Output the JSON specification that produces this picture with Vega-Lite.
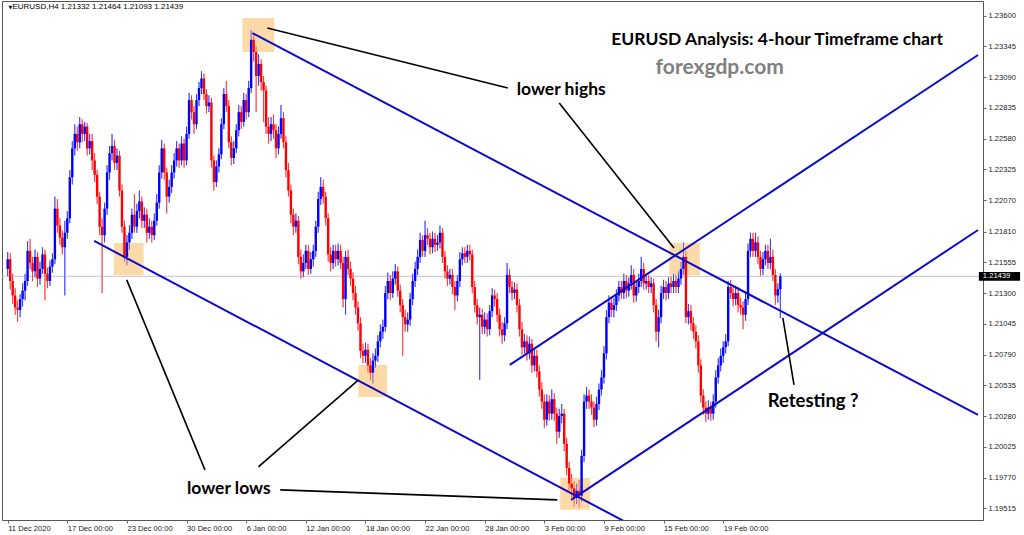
{
"$schema": "https://vega.github.io/schema/vega-lite/v6.json",
"width": 981, "height": 519,
"autosize": {"type": "none"},
"padding": {"left": 2, "top": 1, "right": 41, "bottom": 15},
"background": "white",
"config": {"view": {"stroke": "#555555", "strokeWidth": 1}, "axis": {"grid": false, "labelOverlap": false, "labelFlush": false, "labelBound": false}},
"datasets": {
"candles": [
{"i":0,"o":1.2150,"h":1.2164,"l":1.2144,"c":1.2158},
{"i":1,"o":1.2158,"h":1.2163,"l":1.2133,"c":1.2140},
{"i":2,"o":1.2140,"h":1.2146,"l":1.2121,"c":1.2128},
{"i":3,"o":1.2128,"h":1.2134,"l":1.2112,"c":1.2118},
{"i":4,"o":1.2118,"h":1.2124,"l":1.2106,"c":1.2116},
{"i":5,"o":1.2116,"h":1.2129,"l":1.2110,"c":1.2125},
{"i":6,"o":1.2125,"h":1.2138,"l":1.2119,"c":1.2132},
{"i":7,"o":1.2132,"h":1.2146,"l":1.2124,"c":1.2140},
{"i":8,"o":1.2140,"h":1.2173,"l":1.2136,"c":1.2165},
{"i":9,"o":1.2165,"h":1.2175,"l":1.2150,"c":1.2155},
{"i":10,"o":1.2155,"h":1.2160,"l":1.2140,"c":1.2148},
{"i":11,"o":1.2148,"h":1.2166,"l":1.2143,"c":1.2160},
{"i":12,"o":1.2160,"h":1.2164,"l":1.2135,"c":1.2142},
{"i":13,"o":1.2142,"h":1.2156,"l":1.2137,"c":1.2150},
{"i":14,"o":1.2150,"h":1.2168,"l":1.2146,"c":1.2162},
{"i":15,"o":1.2162,"h":1.2166,"l":1.2124,"c":1.2146},
{"i":16,"o":1.2146,"h":1.2151,"l":1.2134,"c":1.2140},
{"i":17,"o":1.2140,"h":1.2157,"l":1.2136,"c":1.2152},
{"i":18,"o":1.2152,"h":1.2163,"l":1.2147,"c":1.2158},
{"i":19,"o":1.2158,"h":1.2210,"l":1.2154,"c":1.2200},
{"i":20,"o":1.2200,"h":1.2208,"l":1.2180,"c":1.2186},
{"i":21,"o":1.2186,"h":1.2192,"l":1.2170,"c":1.2176},
{"i":22,"o":1.2176,"h":1.2182,"l":1.2162,"c":1.2168},
{"i":23,"o":1.2168,"h":1.2190,"l":1.2128,"c":1.2180},
{"i":24,"o":1.2180,"h":1.2198,"l":1.2175,"c":1.2192},
{"i":25,"o":1.2192,"h":1.2232,"l":1.2188,"c":1.2226},
{"i":26,"o":1.2226,"h":1.2256,"l":1.2220,"c":1.2250},
{"i":27,"o":1.2250,"h":1.2270,"l":1.2244,"c":1.2262},
{"i":28,"o":1.2262,"h":1.2268,"l":1.2248,"c":1.2255},
{"i":29,"o":1.2255,"h":1.2276,"l":1.2250,"c":1.2270},
{"i":30,"o":1.2270,"h":1.2274,"l":1.2255,"c":1.2262},
{"i":31,"o":1.2262,"h":1.2272,"l":1.2256,"c":1.2268},
{"i":32,"o":1.2268,"h":1.2271,"l":1.2244,"c":1.2250},
{"i":33,"o":1.2250,"h":1.2262,"l":1.2245,"c":1.2256},
{"i":34,"o":1.2256,"h":1.2262,"l":1.2232,"c":1.2240},
{"i":35,"o":1.2240,"h":1.2246,"l":1.2222,"c":1.2228},
{"i":36,"o":1.2228,"h":1.2232,"l":1.2204,"c":1.2210},
{"i":37,"o":1.2210,"h":1.2214,"l":1.2178,"c":1.2185},
{"i":38,"o":1.2185,"h":1.2192,"l":1.2130,"c":1.2178},
{"i":39,"o":1.2178,"h":1.2205,"l":1.2172,"c":1.2200},
{"i":40,"o":1.2200,"h":1.2236,"l":1.2195,"c":1.2230},
{"i":41,"o":1.2230,"h":1.2252,"l":1.2224,"c":1.2246},
{"i":42,"o":1.2246,"h":1.2262,"l":1.2240,"c":1.2252},
{"i":43,"o":1.2252,"h":1.2257,"l":1.2232,"c":1.2238},
{"i":44,"o":1.2238,"h":1.2250,"l":1.2232,"c":1.2244},
{"i":45,"o":1.2244,"h":1.2248,"l":1.2210,"c":1.2215},
{"i":46,"o":1.2215,"h":1.2220,"l":1.2180,"c":1.2185},
{"i":47,"o":1.2185,"h":1.2190,"l":1.2156,"c":1.2160},
{"i":48,"o":1.2160,"h":1.2178,"l":1.2153,"c":1.2172},
{"i":49,"o":1.2172,"h":1.2186,"l":1.2166,"c":1.2180},
{"i":50,"o":1.2180,"h":1.2200,"l":1.2175,"c":1.2195},
{"i":51,"o":1.2195,"h":1.2212,"l":1.2180,"c":1.2185},
{"i":52,"o":1.2185,"h":1.2204,"l":1.2180,"c":1.2198},
{"i":53,"o":1.2198,"h":1.2215,"l":1.2192,"c":1.2206},
{"i":54,"o":1.2206,"h":1.2210,"l":1.2184,"c":1.2190},
{"i":55,"o":1.2190,"h":1.2201,"l":1.2184,"c":1.2195},
{"i":56,"o":1.2195,"h":1.2200,"l":1.2172,"c":1.2180},
{"i":57,"o":1.2180,"h":1.2192,"l":1.2175,"c":1.2185},
{"i":58,"o":1.2185,"h":1.2190,"l":1.2172,"c":1.2178},
{"i":59,"o":1.2178,"h":1.2196,"l":1.2174,"c":1.2190},
{"i":60,"o":1.2190,"h":1.2212,"l":1.2186,"c":1.2205},
{"i":61,"o":1.2205,"h":1.2236,"l":1.2200,"c":1.2230},
{"i":62,"o":1.2230,"h":1.2257,"l":1.2225,"c":1.2250},
{"i":63,"o":1.2250,"h":1.2254,"l":1.2224,"c":1.2230},
{"i":64,"o":1.2230,"h":1.2234,"l":1.2196,"c":1.2210},
{"i":65,"o":1.2210,"h":1.2224,"l":1.2205,"c":1.2218},
{"i":66,"o":1.2218,"h":1.2236,"l":1.2213,"c":1.2230},
{"i":67,"o":1.2230,"h":1.2246,"l":1.2225,"c":1.2240},
{"i":68,"o":1.2240,"h":1.2256,"l":1.2235,"c":1.2250},
{"i":69,"o":1.2250,"h":1.2254,"l":1.2234,"c":1.2240},
{"i":70,"o":1.2240,"h":1.2260,"l":1.2236,"c":1.2254},
{"i":71,"o":1.2254,"h":1.2258,"l":1.2234,"c":1.2240},
{"i":72,"o":1.2240,"h":1.2268,"l":1.2236,"c":1.2262},
{"i":73,"o":1.2262,"h":1.2296,"l":1.2258,"c":1.2290},
{"i":74,"o":1.2290,"h":1.2294,"l":1.2274,"c":1.2280},
{"i":75,"o":1.2280,"h":1.2285,"l":1.2262,"c":1.2270},
{"i":76,"o":1.2270,"h":1.2295,"l":1.2266,"c":1.2290},
{"i":77,"o":1.2290,"h":1.2305,"l":1.2285,"c":1.2300},
{"i":78,"o":1.2300,"h":1.2314,"l":1.2295,"c":1.2308},
{"i":79,"o":1.2308,"h":1.2312,"l":1.2290,"c":1.2295},
{"i":80,"o":1.2295,"h":1.2299,"l":1.2279,"c":1.2285},
{"i":81,"o":1.2285,"h":1.2294,"l":1.2280,"c":1.2288},
{"i":82,"o":1.2288,"h":1.2292,"l":1.2234,"c":1.2240},
{"i":83,"o":1.2240,"h":1.2244,"l":1.2215,"c":1.2222},
{"i":84,"o":1.2222,"h":1.2240,"l":1.2218,"c":1.2235},
{"i":85,"o":1.2235,"h":1.2250,"l":1.2230,"c":1.2245},
{"i":86,"o":1.2245,"h":1.2275,"l":1.2241,"c":1.2270},
{"i":87,"o":1.2270,"h":1.2300,"l":1.2266,"c":1.2295},
{"i":88,"o":1.2295,"h":1.2306,"l":1.2280,"c":1.2285},
{"i":89,"o":1.2285,"h":1.2290,"l":1.2250,"c":1.2255},
{"i":90,"o":1.2255,"h":1.2260,"l":1.2236,"c":1.2242},
{"i":91,"o":1.2242,"h":1.2256,"l":1.2237,"c":1.2250},
{"i":92,"o":1.2250,"h":1.2270,"l":1.2246,"c":1.2265},
{"i":93,"o":1.2265,"h":1.2286,"l":1.2260,"c":1.2280},
{"i":94,"o":1.2280,"h":1.2285,"l":1.2266,"c":1.2272},
{"i":95,"o":1.2272,"h":1.2296,"l":1.2268,"c":1.2290},
{"i":96,"o":1.2290,"h":1.2295,"l":1.2274,"c":1.2280},
{"i":97,"o":1.2280,"h":1.2306,"l":1.2276,"c":1.2300},
{"i":98,"o":1.2300,"h":1.2348,"l":1.2296,"c":1.2340},
{"i":99,"o":1.2340,"h":1.2345,"l":1.2322,"c":1.2330},
{"i":100,"o":1.2330,"h":1.2335,"l":1.2280,"c":1.2310},
{"i":101,"o":1.2310,"h":1.2328,"l":1.2302,"c":1.2320},
{"i":102,"o":1.2320,"h":1.2324,"l":1.2298,"c":1.2305},
{"i":103,"o":1.2305,"h":1.2310,"l":1.2272,"c":1.2298},
{"i":104,"o":1.2298,"h":1.2302,"l":1.2262,"c":1.2268},
{"i":105,"o":1.2268,"h":1.2276,"l":1.2254,"c":1.2262},
{"i":106,"o":1.2262,"h":1.2276,"l":1.2256,"c":1.2270},
{"i":107,"o":1.2270,"h":1.2278,"l":1.2258,"c":1.2265},
{"i":108,"o":1.2265,"h":1.2270,"l":1.2242,"c":1.2250},
{"i":109,"o":1.2250,"h":1.2268,"l":1.2245,"c":1.2262},
{"i":110,"o":1.2262,"h":1.2286,"l":1.2258,"c":1.2275},
{"i":111,"o":1.2275,"h":1.2280,"l":1.2250,"c":1.2255},
{"i":112,"o":1.2255,"h":1.2260,"l":1.2226,"c":1.2232},
{"i":113,"o":1.2232,"h":1.2238,"l":1.2210,"c":1.2215},
{"i":114,"o":1.2215,"h":1.2220,"l":1.2188,"c":1.2195},
{"i":115,"o":1.2195,"h":1.2200,"l":1.2178,"c":1.2185},
{"i":116,"o":1.2185,"h":1.2196,"l":1.2180,"c":1.2190},
{"i":117,"o":1.2190,"h":1.2194,"l":1.2154,"c":1.2160},
{"i":118,"o":1.2160,"h":1.2166,"l":1.2142,"c":1.2148},
{"i":119,"o":1.2148,"h":1.2162,"l":1.2143,"c":1.2155},
{"i":120,"o":1.2155,"h":1.2170,"l":1.2150,"c":1.2165},
{"i":121,"o":1.2165,"h":1.2170,"l":1.2145,"c":1.2150},
{"i":122,"o":1.2150,"h":1.2164,"l":1.2146,"c":1.2158},
{"i":123,"o":1.2158,"h":1.2170,"l":1.2152,"c":1.2165},
{"i":124,"o":1.2165,"h":1.2190,"l":1.2160,"c":1.2185},
{"i":125,"o":1.2185,"h":1.2214,"l":1.2180,"c":1.2208},
{"i":126,"o":1.2208,"h":1.2226,"l":1.2203,"c":1.2218},
{"i":127,"o":1.2218,"h":1.2224,"l":1.2204,"c":1.2210},
{"i":128,"o":1.2210,"h":1.2214,"l":1.2186,"c":1.2192},
{"i":129,"o":1.2192,"h":1.2196,"l":1.2156,"c":1.2162},
{"i":130,"o":1.2162,"h":1.2168,"l":1.2148,"c":1.2155},
{"i":131,"o":1.2155,"h":1.2170,"l":1.2150,"c":1.2165},
{"i":132,"o":1.2165,"h":1.2170,"l":1.2152,"c":1.2158},
{"i":133,"o":1.2158,"h":1.2171,"l":1.2153,"c":1.2165},
{"i":134,"o":1.2165,"h":1.2170,"l":1.2150,"c":1.2155},
{"i":135,"o":1.2155,"h":1.2160,"l":1.2118,"c":1.2125},
{"i":136,"o":1.2125,"h":1.2165,"l":1.2112,"c":1.2160},
{"i":137,"o":1.2160,"h":1.2166,"l":1.2145,"c":1.2150},
{"i":138,"o":1.2150,"h":1.2156,"l":1.2136,"c":1.2142},
{"i":139,"o":1.2142,"h":1.2147,"l":1.2124,"c":1.2130},
{"i":140,"o":1.2130,"h":1.2136,"l":1.2112,"c":1.2118},
{"i":141,"o":1.2118,"h":1.2123,"l":1.2099,"c":1.2105},
{"i":142,"o":1.2105,"h":1.2110,"l":1.2076,"c":1.2082},
{"i":143,"o":1.2082,"h":1.2088,"l":1.2072,"c":1.2078},
{"i":144,"o":1.2078,"h":1.2089,"l":1.2072,"c":1.2083},
{"i":145,"o":1.2083,"h":1.2088,"l":1.2064,"c":1.2070},
{"i":146,"o":1.2070,"h":1.2076,"l":1.2058,"c":1.2064},
{"i":147,"o":1.2064,"h":1.2080,"l":1.2055,"c":1.2074},
{"i":148,"o":1.2074,"h":1.2084,"l":1.2068,"c":1.2078},
{"i":149,"o":1.2078,"h":1.2095,"l":1.2073,"c":1.2090},
{"i":150,"o":1.2090,"h":1.2104,"l":1.2085,"c":1.2098},
{"i":151,"o":1.2098,"h":1.2108,"l":1.2092,"c":1.2102},
{"i":152,"o":1.2102,"h":1.2136,"l":1.2098,"c":1.2130},
{"i":153,"o":1.2130,"h":1.2147,"l":1.2125,"c":1.2140},
{"i":154,"o":1.2140,"h":1.2145,"l":1.2124,"c":1.2130},
{"i":155,"o":1.2130,"h":1.2148,"l":1.2126,"c":1.2142},
{"i":156,"o":1.2142,"h":1.2154,"l":1.2137,"c":1.2148},
{"i":157,"o":1.2148,"h":1.2152,"l":1.2127,"c":1.2132},
{"i":158,"o":1.2132,"h":1.2137,"l":1.2114,"c":1.2120},
{"i":159,"o":1.2120,"h":1.2125,"l":1.2078,"c":1.2110},
{"i":160,"o":1.2110,"h":1.2116,"l":1.2098,"c":1.2104},
{"i":161,"o":1.2104,"h":1.2114,"l":1.2098,"c":1.2108},
{"i":162,"o":1.2108,"h":1.2130,"l":1.2103,"c":1.2125},
{"i":163,"o":1.2125,"h":1.2146,"l":1.2120,"c":1.2140},
{"i":164,"o":1.2140,"h":1.2156,"l":1.2135,"c":1.2150},
{"i":165,"o":1.2150,"h":1.2166,"l":1.2145,"c":1.2160},
{"i":166,"o":1.2160,"h":1.2180,"l":1.2155,"c":1.2174},
{"i":167,"o":1.2174,"h":1.2178,"l":1.2160,"c":1.2165},
{"i":168,"o":1.2165,"h":1.2190,"l":1.2160,"c":1.2178},
{"i":169,"o":1.2178,"h":1.2184,"l":1.2170,"c":1.2175},
{"i":170,"o":1.2175,"h":1.2180,"l":1.2162,"c":1.2168},
{"i":171,"o":1.2168,"h":1.2181,"l":1.2163,"c":1.2175},
{"i":172,"o":1.2175,"h":1.2180,"l":1.2164,"c":1.2170},
{"i":173,"o":1.2170,"h":1.2178,"l":1.2165,"c":1.2172},
{"i":174,"o":1.2172,"h":1.2186,"l":1.2167,"c":1.2180},
{"i":175,"o":1.2180,"h":1.2184,"l":1.2155,"c":1.2160},
{"i":176,"o":1.2160,"h":1.2165,"l":1.2142,"c":1.2148},
{"i":177,"o":1.2148,"h":1.2153,"l":1.2136,"c":1.2142},
{"i":178,"o":1.2142,"h":1.2150,"l":1.2137,"c":1.2145},
{"i":179,"o":1.2145,"h":1.2150,"l":1.2129,"c":1.2135},
{"i":180,"o":1.2135,"h":1.2140,"l":1.2116,"c":1.2128},
{"i":181,"o":1.2128,"h":1.2145,"l":1.2123,"c":1.2140},
{"i":182,"o":1.2140,"h":1.2164,"l":1.2135,"c":1.2158},
{"i":183,"o":1.2158,"h":1.2168,"l":1.2153,"c":1.2163},
{"i":184,"o":1.2163,"h":1.2168,"l":1.2155,"c":1.2160},
{"i":185,"o":1.2160,"h":1.2170,"l":1.2155,"c":1.2165},
{"i":186,"o":1.2165,"h":1.2170,"l":1.2157,"c":1.2162},
{"i":187,"o":1.2162,"h":1.2166,"l":1.2130,"c":1.2135},
{"i":188,"o":1.2135,"h":1.2140,"l":1.2114,"c":1.2120},
{"i":189,"o":1.2120,"h":1.2125,"l":1.2104,"c":1.2110},
{"i":190,"o":1.2110,"h":1.2118,"l":1.2058,"c":1.2112},
{"i":191,"o":1.2112,"h":1.2117,"l":1.2096,"c":1.2102},
{"i":192,"o":1.2102,"h":1.2114,"l":1.2096,"c":1.2108},
{"i":193,"o":1.2108,"h":1.2113,"l":1.2094,"c":1.2100},
{"i":194,"o":1.2100,"h":1.2120,"l":1.2095,"c":1.2115},
{"i":195,"o":1.2115,"h":1.2134,"l":1.2110,"c":1.2128},
{"i":196,"o":1.2128,"h":1.2133,"l":1.2119,"c":1.2125},
{"i":197,"o":1.2125,"h":1.2130,"l":1.2106,"c":1.2112},
{"i":198,"o":1.2112,"h":1.2117,"l":1.2094,"c":1.2100},
{"i":199,"o":1.2100,"h":1.2106,"l":1.2088,"c":1.2095},
{"i":200,"o":1.2095,"h":1.2110,"l":1.2090,"c":1.2105},
{"i":201,"o":1.2105,"h":1.2155,"l":1.2100,"c":1.2145},
{"i":202,"o":1.2145,"h":1.2150,"l":1.2130,"c":1.2135},
{"i":203,"o":1.2135,"h":1.2140,"l":1.2124,"c":1.2130},
{"i":204,"o":1.2130,"h":1.2139,"l":1.2125,"c":1.2133},
{"i":205,"o":1.2133,"h":1.2138,"l":1.2114,"c":1.2120},
{"i":206,"o":1.2120,"h":1.2125,"l":1.2094,"c":1.2100},
{"i":207,"o":1.2100,"h":1.2106,"l":1.2079,"c":1.2085},
{"i":208,"o":1.2085,"h":1.2096,"l":1.2080,"c":1.2090},
{"i":209,"o":1.2090,"h":1.2095,"l":1.2074,"c":1.2080},
{"i":210,"o":1.2080,"h":1.2094,"l":1.2075,"c":1.2088},
{"i":211,"o":1.2088,"h":1.2092,"l":1.2064,"c":1.2070},
{"i":212,"o":1.2070,"h":1.2084,"l":1.2065,"c":1.2078},
{"i":213,"o":1.2078,"h":1.2083,"l":1.2060,"c":1.2065},
{"i":214,"o":1.2065,"h":1.2070,"l":1.2044,"c":1.2050},
{"i":215,"o":1.2050,"h":1.2056,"l":1.2034,"c":1.2040},
{"i":216,"o":1.2040,"h":1.2046,"l":1.2018,"c":1.2025},
{"i":217,"o":1.2025,"h":1.2046,"l":1.2020,"c":1.2040},
{"i":218,"o":1.2040,"h":1.2045,"l":1.2024,"c":1.2030},
{"i":219,"o":1.2030,"h":1.2050,"l":1.2025,"c":1.2042},
{"i":220,"o":1.2042,"h":1.2047,"l":1.2024,"c":1.2030},
{"i":221,"o":1.2030,"h":1.2035,"l":1.2005,"c":1.2015},
{"i":222,"o":1.2015,"h":1.2034,"l":1.2010,"c":1.2028},
{"i":223,"o":1.2028,"h":1.2038,"l":1.2022,"c":1.2030},
{"i":224,"o":1.2030,"h":1.2034,"l":1.1999,"c":1.2005},
{"i":225,"o":1.2005,"h":1.2010,"l":1.1979,"c":1.1985},
{"i":226,"o":1.1985,"h":1.1990,"l":1.1966,"c":1.1972},
{"i":227,"o":1.1972,"h":1.1980,"l":1.1960,"c":1.1968},
{"i":228,"o":1.1968,"h":1.1974,"l":1.1953,"c":1.1960},
{"i":229,"o":1.1960,"h":1.1972,"l":1.1955,"c":1.1966},
{"i":230,"o":1.1966,"h":1.1975,"l":1.1952,"c":1.1962},
{"i":231,"o":1.1962,"h":1.2000,"l":1.1957,"c":1.1995},
{"i":232,"o":1.1995,"h":1.2046,"l":1.1990,"c":1.2040},
{"i":233,"o":1.2040,"h":1.2052,"l":1.2034,"c":1.2045},
{"i":234,"o":1.2045,"h":1.2050,"l":1.2034,"c":1.2040},
{"i":235,"o":1.2040,"h":1.2046,"l":1.2029,"c":1.2035},
{"i":236,"o":1.2035,"h":1.2040,"l":1.2019,"c":1.2025},
{"i":237,"o":1.2025,"h":1.2044,"l":1.2020,"c":1.2038},
{"i":238,"o":1.2038,"h":1.2055,"l":1.2033,"c":1.2050},
{"i":239,"o":1.2050,"h":1.2066,"l":1.2045,"c":1.2060},
{"i":240,"o":1.2060,"h":1.2086,"l":1.2055,"c":1.2080},
{"i":241,"o":1.2080,"h":1.2116,"l":1.2075,"c":1.2110},
{"i":242,"o":1.2110,"h":1.2128,"l":1.2105,"c":1.2122},
{"i":243,"o":1.2122,"h":1.2127,"l":1.2110,"c":1.2116},
{"i":244,"o":1.2116,"h":1.2126,"l":1.2110,"c":1.2120},
{"i":245,"o":1.2120,"h":1.2133,"l":1.2115,"c":1.2128},
{"i":246,"o":1.2128,"h":1.2140,"l":1.2123,"c":1.2135},
{"i":247,"o":1.2135,"h":1.2140,"l":1.2125,"c":1.2130},
{"i":248,"o":1.2130,"h":1.2146,"l":1.2125,"c":1.2140},
{"i":249,"o":1.2140,"h":1.2145,"l":1.2126,"c":1.2132},
{"i":250,"o":1.2132,"h":1.2143,"l":1.2127,"c":1.2138},
{"i":251,"o":1.2138,"h":1.2153,"l":1.2133,"c":1.2145},
{"i":252,"o":1.2145,"h":1.2150,"l":1.2122,"c":1.2128},
{"i":253,"o":1.2128,"h":1.2140,"l":1.2123,"c":1.2135},
{"i":254,"o":1.2135,"h":1.2146,"l":1.2130,"c":1.2140},
{"i":255,"o":1.2140,"h":1.2160,"l":1.2135,"c":1.2150},
{"i":256,"o":1.2150,"h":1.2155,"l":1.2133,"c":1.2138},
{"i":257,"o":1.2138,"h":1.2146,"l":1.2133,"c":1.2140},
{"i":258,"o":1.2140,"h":1.2145,"l":1.2130,"c":1.2135},
{"i":259,"o":1.2135,"h":1.2143,"l":1.2130,"c":1.2138},
{"i":260,"o":1.2138,"h":1.2142,"l":1.2114,"c":1.2120},
{"i":261,"o":1.2120,"h":1.2125,"l":1.2090,"c":1.2098},
{"i":262,"o":1.2098,"h":1.2116,"l":1.2085,"c":1.2110},
{"i":263,"o":1.2110,"h":1.2136,"l":1.2105,"c":1.2130},
{"i":264,"o":1.2130,"h":1.2141,"l":1.2125,"c":1.2135},
{"i":265,"o":1.2135,"h":1.2140,"l":1.2124,"c":1.2130},
{"i":266,"o":1.2130,"h":1.2143,"l":1.2125,"c":1.2138},
{"i":267,"o":1.2138,"h":1.2144,"l":1.2130,"c":1.2135},
{"i":268,"o":1.2135,"h":1.2146,"l":1.2130,"c":1.2140},
{"i":269,"o":1.2140,"h":1.2145,"l":1.2130,"c":1.2135},
{"i":270,"o":1.2135,"h":1.2148,"l":1.2130,"c":1.2142},
{"i":271,"o":1.2142,"h":1.2156,"l":1.2137,"c":1.2150},
{"i":272,"o":1.2150,"h":1.2172,"l":1.2145,"c":1.2160},
{"i":273,"o":1.2160,"h":1.2165,"l":1.2105,"c":1.2110},
{"i":274,"o":1.2110,"h":1.2121,"l":1.2104,"c":1.2115},
{"i":275,"o":1.2115,"h":1.2120,"l":1.2099,"c":1.2105},
{"i":276,"o":1.2105,"h":1.2110,"l":1.2092,"c":1.2098},
{"i":277,"o":1.2098,"h":1.2103,"l":1.2084,"c":1.2090},
{"i":278,"o":1.2090,"h":1.2095,"l":1.2064,"c":1.2070},
{"i":279,"o":1.2070,"h":1.2075,"l":1.2039,"c":1.2045},
{"i":280,"o":1.2045,"h":1.2050,"l":1.2029,"c":1.2035},
{"i":281,"o":1.2035,"h":1.2040,"l":1.2023,"c":1.2030},
{"i":282,"o":1.2030,"h":1.2041,"l":1.2025,"c":1.2035},
{"i":283,"o":1.2035,"h":1.2040,"l":1.2024,"c":1.2030},
{"i":284,"o":1.2030,"h":1.2046,"l":1.2025,"c":1.2040},
{"i":285,"o":1.2040,"h":1.2066,"l":1.2035,"c":1.2060},
{"i":286,"o":1.2060,"h":1.2076,"l":1.2055,"c":1.2070},
{"i":287,"o":1.2070,"h":1.2084,"l":1.2065,"c":1.2078},
{"i":288,"o":1.2078,"h":1.2090,"l":1.2072,"c":1.2085},
{"i":289,"o":1.2085,"h":1.2096,"l":1.2080,"c":1.2090},
{"i":290,"o":1.2090,"h":1.2140,"l":1.2086,"c":1.2135},
{"i":291,"o":1.2135,"h":1.2141,"l":1.2125,"c":1.2130},
{"i":292,"o":1.2130,"h":1.2136,"l":1.2119,"c":1.2125},
{"i":293,"o":1.2125,"h":1.2136,"l":1.2120,"c":1.2130},
{"i":294,"o":1.2130,"h":1.2135,"l":1.2114,"c":1.2120},
{"i":295,"o":1.2120,"h":1.2126,"l":1.2112,"c":1.2118},
{"i":296,"o":1.2118,"h":1.2123,"l":1.2100,"c":1.2112},
{"i":297,"o":1.2112,"h":1.2130,"l":1.2107,"c":1.2125},
{"i":298,"o":1.2125,"h":1.2171,"l":1.2120,"c":1.2165},
{"i":299,"o":1.2165,"h":1.2180,"l":1.2160,"c":1.2175},
{"i":300,"o":1.2175,"h":1.2180,"l":1.2160,"c":1.2165},
{"i":301,"o":1.2165,"h":1.2180,"l":1.2160,"c":1.2172},
{"i":302,"o":1.2172,"h":1.2177,"l":1.2154,"c":1.2160},
{"i":303,"o":1.2160,"h":1.2165,"l":1.2144,"c":1.2150},
{"i":304,"o":1.2150,"h":1.2164,"l":1.2145,"c":1.2158},
{"i":305,"o":1.2158,"h":1.2170,"l":1.2153,"c":1.2165},
{"i":306,"o":1.2165,"h":1.2170,"l":1.2150,"c":1.2155},
{"i":307,"o":1.2155,"h":1.2175,"l":1.2150,"c":1.2160},
{"i":308,"o":1.2160,"h":1.2166,"l":1.2140,"c":1.2145},
{"i":309,"o":1.2145,"h":1.2150,"l":1.2120,"c":1.2128},
{"i":310,"o":1.2128,"h":1.2138,"l":1.2122,"c":1.21332},
{"i":311,"o":1.21332,"h":1.21464,"l":1.21093,"c":1.21439}
],
"boxes": [
{"x1":94.5,"x2":107.3,"y1":1.23581,"y2":1.23299},
{"x1":42.7,"x2":54.7,"y1":1.21716,"y2":1.21450},
{"x1":141.2,"x2":152.7,"y1":1.20704,"y2":1.20439},
{"x1":222.4,"x2":234.4,"y1":1.19767,"y2":1.19502},
{"x1":266.3,"x2":278.6,"y1":1.21716,"y2":1.21450}
],
"trend": [
{"id":"A","i":98.5,"p":1.23456},{"id":"A","i":390.56,"p":1.2029},
{"id":"B","i":34.8,"p":1.21732},{"id":"B","i":253.9,"p":1.19345},
{"id":"C","i":202.1,"p":1.20704},{"id":"C","i":390.56,"p":1.23274},
{"id":"D","i":226.8,"p":1.19585},{"id":"D","i":390.56,"p":1.21823}
],
"pointers": [
{"id":"h1","i":104.5,"p":1.23498},{"id":"h1","i":201.3,"p":1.2300},
{"id":"h2","i":222.0,"p":1.22876},{"id":"h2","i":268.2,"p":1.21674},
{"id":"l1","i":47.9,"p":1.21409},{"id":"l1","i":79.4,"p":1.19834},
{"id":"l2","i":100.9,"p":1.19859},{"id":"l2","i":141.2,"p":1.20580},
{"id":"l3","i":109.7,"p":1.19668},{"id":"l3","i":221.2,"p":1.19585},
{"id":"r1","i":312.0,"p":1.21094},{"id":"r1","i":316.5,"p":1.20538}
],
"lastprice": [{"price": 1.21439, "label": "1.21439", "a": 390.9, "b": 407.5, "top": 1.21475, "bottom": 1.21403}]
},
"layer": [
{
"data": {"name": "candles"},
"mark": {"type": "rule", "strokeWidth": 1, "opacity": 0.55},
"encoding": {
"x": {"field": "i", "type": "quantitative", "title": null,
  "scale": {"domain": [-0.28, 390.56], "nice": false, "zero": false},
  "axis": {"orient": "bottom", "values": [0,24,48,72,96,120,144,168,192,216,240,264,288], "tickCount": 40,
    "labelExpr": "['11 Dec 2020','17 Dec 00:00','23 Dec 00:00','30 Dec 00:00','6 Jan 00:00','12 Jan 00:00','18 Jan 00:00','22 Jan 00:00','28 Jan 00:00','3 Feb 00:00','9 Feb 00:00','15 Feb 00:00','19 Feb 00:00'][round(datum.value/24)]",
    "labelAlign": "left", "labelBaseline": "top", "labelDx": 1, "labelPadding": 1, "tickSize": 3, "tickColor": "#666666", "domain": false, "grid": false,
    "labelFont": "Liberation Sans", "labelFontSize": 7.6, "labelColor": "#202020", "labelOverlap": false, "labelFlush": false, "labelBound": false}},
"y": {"field": "l", "type": "quantitative", "title": null,
  "scale": {"domain": [1.19418, 1.23722], "nice": false, "zero": false},
  "axis": {"orient": "right", "values": [1.236,1.23345,1.2309,1.22835,1.2258,1.22325,1.2207,1.2181,1.21555,1.213,1.21045,1.2079,1.20535,1.2028,1.20025,1.1977,1.19515], "tickCount": 40,
    "format": ".5f", "tickSize": 3, "tickColor": "#666666", "labelPadding": 2, "domain": false, "grid": false, "labelBaseline": "middle",
    "labelFont": "Liberation Sans", "labelFontSize": 7.6, "labelColor": "#202020", "labelOverlap": false, "labelFlush": false, "labelBound": false}},
"y2": {"field": "h"},
"color": {"condition": {"test": "datum.c >= datum.o", "value": "#0000ff"}, "value": "#ff0000"}
}
},
{
"data": {"name": "boxes"},
"mark": {"type": "rect", "color": "#fcd9a9"},
"encoding": {
"x": {"field": "x1", "type": "quantitative", "title": null},
"x2": {"field": "x2"},
"y": {"field": "y1", "type": "quantitative", "title": null},
"y2": {"field": "y2"}
}
},
{
"data": {"name": "lastprice"},
"mark": {"type": "rule", "color": "#c4c4c4", "strokeWidth": 1},
"encoding": {
"y": {"field": "price", "type": "quantitative", "title": null}
}
},
{
"data": {"name": "candles"},
"mark": {"type": "rule", "strokeWidth": 1, "opacity": 0.55},
"encoding": {
"x": {"field": "i", "type": "quantitative", "title": null},
"y": {"field": "l", "type": "quantitative", "title": null},
"y2": {"field": "h"},
"color": {"condition": {"test": "datum.c >= datum.o", "value": "#0000ff"}, "value": "#ff0000"}
}
},
{
"data": {"name": "candles"},
"mark": {"type": "bar", "size": 2.4},
"encoding": {
"x": {"field": "i", "type": "quantitative", "title": null},
"y": {"field": "o", "type": "quantitative", "title": null},
"y2": {"field": "c"},
"color": {"condition": {"test": "datum.c >= datum.o", "value": "#0000ff"}, "value": "#ff0000"}
}
},
{
"data": {"name": "trend"},
"mark": {"type": "line", "color": "#0c0cc8", "strokeWidth": 2, "clip": true},
"encoding": {
"x": {"field": "i", "type": "quantitative", "title": null},
"y": {"field": "p", "type": "quantitative", "title": null},
"detail": {"field": "id"}
}
},
{
"data": {"name": "pointers"},
"mark": {"type": "line", "color": "#000000", "strokeWidth": 1.6, "clip": true},
"encoding": {
"x": {"field": "i", "type": "quantitative", "title": null},
"y": {"field": "p", "type": "quantitative", "title": null},
"detail": {"field": "id"}
}
},
{
"data": {"values": [{"t": "EURUSD Analysis: 4-hour Timeframe chart", "i": 309.7, "p": 1.23399}]},
"mark": {"type": "text", "font": "Lato", "fontWeight": "bold", "fontSize": 17.5, "color": "#000000", "align": "center", "baseline": "middle"},
"encoding": {"x": {"field": "i", "type": "quantitative", "title": null}, "y": {"field": "p", "type": "quantitative", "title": null}, "text": {"field": "t"}}
},
{
"data": {"values": [{"t": "forexgdp.com", "i": 286.6, "p": 1.23166}]},
"mark": {"type": "text", "font": "Lato", "fontWeight": "bold", "fontSize": 21, "color": "#808080", "align": "center", "baseline": "middle"},
"encoding": {"x": {"field": "i", "type": "quantitative", "title": null}, "y": {"field": "p", "type": "quantitative", "title": null}, "text": {"field": "t"}}
},
{
"data": {"values": [{"t": "lower highs", "i": 222.8, "p": 1.22984}, {"t": "lower lows", "i": 89.0, "p": 1.19675}]},
"mark": {"type": "text", "font": "Lato", "fontWeight": "bold", "fontSize": 17.5, "color": "#000000", "align": "center", "baseline": "middle"},
"encoding": {"x": {"field": "i", "type": "quantitative", "title": null}, "y": {"field": "p", "type": "quantitative", "title": null}, "text": {"field": "t"}}
},
{
"data": {"values": [{"t": "Retesting ?", "i": 324.2, "p": 1.20405}]},
"mark": {"type": "text", "font": "Lato", "fontWeight": "bold", "fontSize": 18.5, "color": "#000000", "align": "center", "baseline": "middle"},
"encoding": {"x": {"field": "i", "type": "quantitative", "title": null}, "y": {"field": "p", "type": "quantitative", "title": null}, "text": {"field": "t"}}
},
{
"data": {"values": [{"t": "▼", "i": 0.3, "p": 1.23675}]},
"mark": {"type": "text", "font": "DejaVu Sans", "fontSize": 5, "color": "#000000", "align": "left", "baseline": "middle"},
"encoding": {"x": {"field": "i", "type": "quantitative", "title": null}, "y": {"field": "p", "type": "quantitative", "title": null}, "text": {"field": "t"}}
},
{
"data": {"values": [{"t": "EURUSD,H4  1.21332 1.21464 1.21093 1.21439", "i": 1.9, "p": 1.23675}]},
"mark": {"type": "text", "font": "Liberation Sans", "fontSize": 8, "color": "#000000", "align": "left", "baseline": "middle"},
"encoding": {"x": {"field": "i", "type": "quantitative", "title": null}, "y": {"field": "p", "type": "quantitative", "title": null}, "text": {"field": "t"}}
},
{
"data": {"name": "lastprice"},
"mark": {"type": "rect", "color": "#000000", "clip": false},
"encoding": {
"x": {"field": "a", "type": "quantitative", "title": null},
"x2": {"field": "b"},
"y": {"field": "top", "type": "quantitative", "title": null},
"y2": {"field": "bottom"}
}
},
{
"data": {"name": "lastprice"},
"mark": {"type": "text", "font": "Liberation Sans", "fontSize": 7.6, "color": "#ffffff", "align": "left", "baseline": "middle", "clip": false, "dx": 4},
"encoding": {
"x": {"field": "a", "type": "quantitative", "title": null},
"y": {"field": "price", "type": "quantitative", "title": null},
"text": {"field": "label"}
}
}
]
}
